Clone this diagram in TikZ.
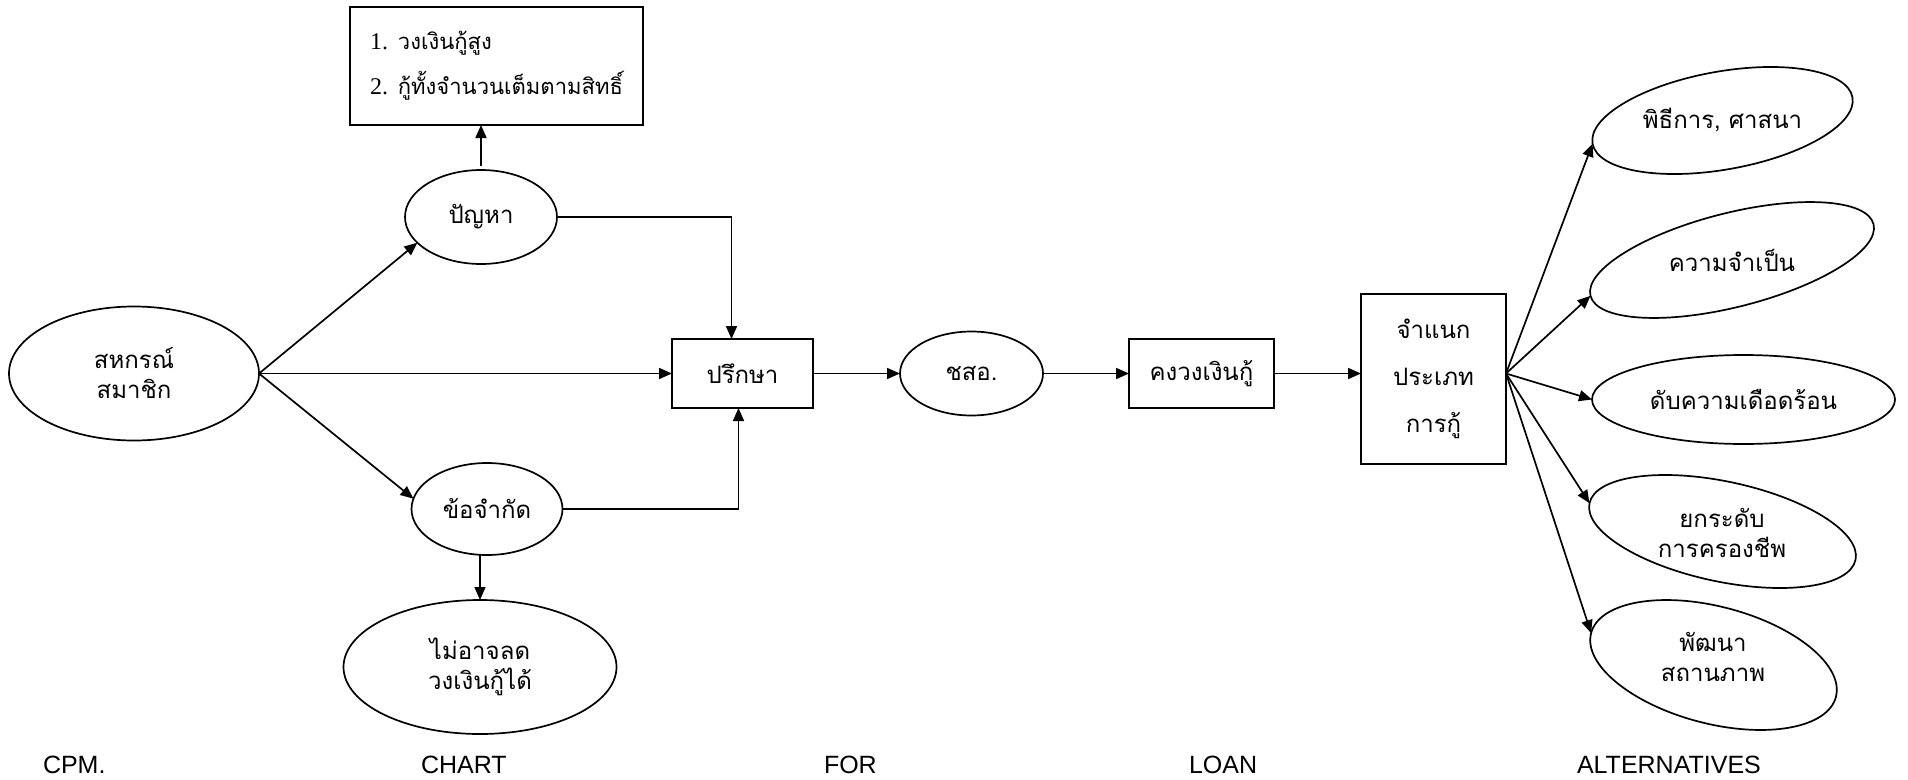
\documentclass[tikz,border=0pt]{standalone}
\usepackage{fontspec}
\setmainfont{Liberation Serif}
\newfontfamily\thai[Script=Thai]{Loma}
\newfontfamily\labfont{Liberation Sans}
\usetikzlibrary{arrows.meta,shapes.geometric}
\begin{document}
\begin{tikzpicture}[x=1pt,y=-1pt,
  every node/.style={font=\thai\fontsize{24}{30}\selectfont, inner sep=0pt, outer sep=0pt},
  ell/.style={ellipse, draw, line width=1.7pt, align=center},
  boxnode/.style={rectangle, draw, line width=1.7pt, align=center},
  arr/.style={line width=1.7pt, -{Triangle[length=13pt,width=11pt]}},
  lab/.style={font=\labfont\fontsize{25}{30}\selectfont, anchor=base west}]
\useasboundingbox (0,0) rectangle (1908,779);

% left part
\node[boxnode, minimum width=293, minimum height=118, align=left,
      font=\thai\fontsize{22}{45}\selectfont] (top) at (496.5,66)
  {{\rmfamily\fontsize{24}{45}\selectfont 1.} วงเงินกู้สูง\\{\rmfamily\fontsize{24}{45}\selectfont 2.} กู้ทั้งจำนวนเต็มตามสิทธิ์};
\node[ell, minimum width=152, minimum height=94] (prob) at (481,217) {ปัญหา};
\node[ell, minimum width=250, minimum height=134] (coop) at (134,373.5) {สหกรณ์\\สมาชิก};
\node[ell, minimum width=151, minimum height=92] (lim) at (487,509) {ข้อจำกัด};
\node[ell, minimum width=273, minimum height=134] (cant) at (480,667) {ไม่อาจลด\\วงเงินกู้ได้};

% main row
\node[boxnode, minimum width=141, minimum height=69] (cons) at (742.5,373.5) {ปรึกษา};
\node[ell, minimum width=143, minimum height=84] (chso) at (971.5,373.5) {ชสอ.};
\node[boxnode, minimum width=145, minimum height=69] (keep) at (1201.5,373.5) {คงวงเงินกู้};
\node[boxnode, minimum width=145, minimum height=170,
      font=\thai\fontsize{24}{47}\selectfont] (cls) at (1433.5,379) {จำแนก\\ประเภท\\การกู้};

% right ellipses
\node[ell, rotate=10.1, minimum width=264, minimum height=98] (a1) at (1722.5,120.5) {};
\node (t1) at (1722.5,120.5) {พิธีการ, ศาสนา};
\node[ell, rotate=14.2, minimum width=292, minimum height=94] (a2) at (1732,260) {};
\node (t2) at (1732,260) {ความจำเป็น};
\node[ell, minimum width=303, minimum height=89] (a3) at (1743.5,399.5) {};
\node (t3) at (1743.5,399.5) {ดับความเดือดร้อน};
\node[ell, rotate=-12, minimum width=272, minimum height=100] (a4) at (1722.5,531.5) {};
\node[align=center] (t4) at (1722,533) {ยกระดับ\\การครองชีพ};
\node[ell, rotate=-14.6, minimum width=253, minimum height=117] (a5) at (1713.5,665) {};
\node[align=center] (t5) at (1713,657) {พัฒนา\\สถานภาพ};

% connectors
\draw[arr] (coop.east) -- (prob.202);
\draw[arr] (coop.east) -- (cons.west);
\draw[arr] (coop.east) -- (lim.172);
\draw[arr] (prob.east) -| ([xshift=-11pt]cons.north);
\draw[arr] (lim.east) -| ([xshift=-4pt]cons.south);
\draw[arr, shorten <=4pt] (prob.north) -- (prob.north |- top.south);
\draw[arr] (cant.north |- lim.south) -- (cant.north);
\draw[arr] (cons.east) -- (chso.west);
\draw[arr] (chso.east) -- (keep.west);
\draw[arr] (keep.east) -- (keep.east -| cls.west);
\coordinate (fan) at (cls.east |- keep.east);
\draw[arr] (fan) -- (a1.west);
\draw[arr] (fan) -- (a2.west);
\draw[arr] (fan) -- (a3.west);
\draw[arr] (fan) -- (a4.west);
\draw[arr] (fan) -- (a5.west);

% bottom labels
\node[lab] (l1) at (43,773) {CPM.};
\node[lab] (l2) at (421,773) {CHART};
\node[lab] (l3) at (824,773) {FOR};
\node[lab] (l4) at (1189,773) {LOAN};
\node[lab] (l5) at (1577,773) {ALTERNATIVES};
\end{tikzpicture}
\end{document}
